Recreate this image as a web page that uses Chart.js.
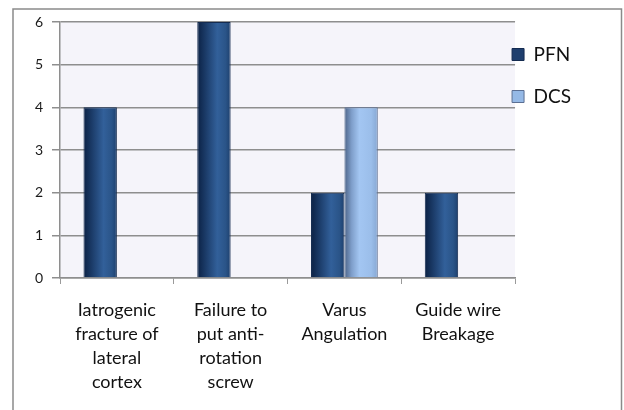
<!DOCTYPE html>
<html>
<head>
<meta charset="utf-8">
<script src="https://cdn.jsdelivr.net/npm/chart.js@4.4.1/dist/chart.umd.min.js"></script>
<style>
  html, body { margin: 0; padding: 0; background: #ffffff; }
  #wrap { width: 624px; height: 410px; position: relative; }
</style>
</head>
<body>
<div id="wrap"><canvas id="c" width="624" height="410"></canvas></div>
<script>
// Complications by fixation method
const categories = [
  ['Iatrogenic', 'fracture of', 'lateral', 'cortex'],
  ['Failure to', 'put anti-', 'rotation', 'screw'],
  ['Varus', 'Angulation'],
  ['Guide wire', 'Breakage']
];
const seriesNames = ['PFN', 'DCS'];
const pfnValues = [4, 6, 2, 2];
const dcsValues = [0, 0, 4, 0];
const yMin = 0;
const yMax = 6;
const yStep = 1;

const FONT = 'Lato, "Open Sans", "DejaVu Sans", sans-serif';

// Cylinder-like horizontal shading for each bar
const barShade = {
  id: 'barShade',
  beforeDatasetsDraw(chart) {
    const ctx = chart.ctx;
    chart.data.datasets.forEach((ds, di) => {
      const meta = chart.getDatasetMeta(di);
      meta.data.forEach(el => {
        const p = el.getProps(['x', 'width'], true);
        const g = ctx.createLinearGradient(p.x - p.width / 2, 0, p.x + p.width / 2, 0);
        ds.shade.forEach(s => g.addColorStop(s[0], s[1]));
        el.options = Object.assign({}, el.options, { backgroundColor: g });
      });
    });
  }
};

// Frame around the figure and tinted plot area
const frame = {
  id: 'frame',
  beforeDraw(chart) {
    const ctx = chart.ctx;
    const a = chart.chartArea;
    ctx.save();
    ctx.fillStyle = '#ffffff';
    ctx.fillRect(0, 0, chart.width, chart.height);
    ctx.fillStyle = '#f5f4fa';
    ctx.fillRect(a.left, a.top, a.right - a.left, a.bottom - a.top);
    ctx.strokeStyle = '#8a8a8a';
    ctx.lineWidth = 1.5;
    ctx.strokeRect(13, 9, 608.5, 430);
    ctx.restore();
  }
};

// Pull the legend in so its keys sit against the plot edge
const legendNudge = {
  id: 'legendNudge',
  afterLayout(chart) {
    const lg = chart.legend;
    if (lg) { lg.left -= 26; lg.right -= 26; }
  }
};

new Chart(document.getElementById('c'), {
  type: 'bar',
  data: {
    labels: categories,
    datasets: [
      {
        label: seriesNames[0],
        data: pfnValues,
        backgroundColor: '#1f3f6e',
        borderColor: '#142b50',
        borderWidth: 1,
        borderSkipped: 'bottom',
        shade: [[0, '#0b2144'], [0.25, '#1b3b68'], [0.6, '#32609a'], [0.85, '#2a5488'], [1, '#1d3f6d']]
      },
      {
        label: seriesNames[1],
        data: dcsValues,
        backgroundColor: '#95b9e6',
        borderColor: '#5b6f93',
        borderWidth: 1,
        borderSkipped: 'bottom',
        shade: [[0, '#4d6488'], [0.22, '#7f9fcb'], [0.45, '#a3c6f2'], [0.8, '#9bbeea'], [1, '#86a7d3']]
      }
    ]
  },
  options: {
    responsive: false,
    animation: false,
    devicePixelRatio: 1,
    layout: { padding: { left: 0, top: 22, right: 17, bottom: 0 } },
    datasets: {
      bar: { categoryPercentage: 0.587, barPercentage: 1.0 }
    },
    plugins: {
      tooltip: { enabled: false },
      title: { display: false },
      legend: {
        position: 'right',
        align: 'start',
        fullSize: false,
        labels: {
          boxWidth: 12,
          boxHeight: 12,
          padding: 23,
          color: '#111111',
          font: { family: FONT, size: 19 }
        }
      }
    },
    scales: {
      x: {
        offset: true,
        grid: {
          display: true,
          offset: true,
          drawOnChartArea: false,
          drawTicks: true,
          tickLength: 6,
          color: '#9a9a9a',
          lineWidth: 1
        },
        border: { display: true, color: '#8e8e8e', width: 1.5 },
        ticks: {
          color: '#111111',
          font: { family: FONT, size: 18, lineHeight: 1.333 },
          padding: 14,
          maxRotation: 0,
          minRotation: 0,
          autoSkip: false
        },
        afterFit(s) { s.height = 132; }
      },
      y: {
        min: yMin,
        max: yMax,
        grid: {
          color: '#8e8e8e',
          lineWidth: 1.5,
          tickLength: 8,
          drawTicks: true
        },
        border: { display: true, color: '#8e8e8e', width: 1.5 },
        ticks: {
          stepSize: yStep,
          color: '#1a1a1a',
          font: { family: FONT, size: 14 },
          padding: 9
        },
        afterFit(s) { s.width = 60; }
      }
    }
  },
  plugins: [frame, barShade, legendNudge]
});
</script>
</body>
</html>
